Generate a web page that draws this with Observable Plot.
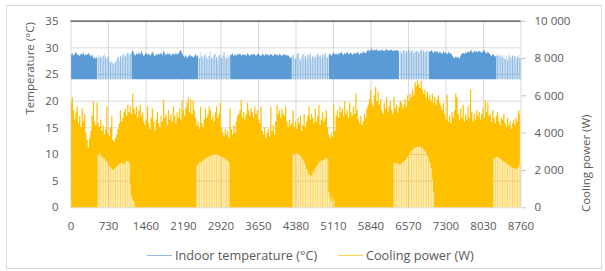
<!DOCTYPE html>
<html><head><meta charset="utf-8">
<script src="https://cdn.jsdelivr.net/npm/d3@7"></script>
<script src="https://cdn.jsdelivr.net/npm/@observablehq/plot@0.6"></script>
<style>
body{margin:0;background:#fff;font-family:"Open Sans",sans-serif;}
#wrap{position:relative;width:605px;height:271px;overflow:hidden;background:#fff}
#chart{position:absolute;left:0;top:0}
#frame{position:absolute;left:6px;top:5px;width:594px;height:262px;border:1px solid #d9d9d9;pointer-events:none}
.leg{position:absolute;top:247px;font-size:12.7px;line-height:16px;color:#595959;white-space:nowrap;font-family:"Open Sans",sans-serif}
.sw{position:absolute;top:255px;width:25px;height:0;border-top:1.5px solid}
</style></head><body>
<div id="wrap">
<div id="chart"></div>
<div class="sw" style="left:147px;border-top-color:#8fbbe6"></div>
<div class="leg" style="left:175px">Indoor temperature (°C)</div>
<div class="sw" style="left:338px;border-top-color:#ffd34d"></div>
<div class="leg" style="left:366px">Cooling power (W)</div>
<div id="frame"></div>
</div>
<script>
// Hour-of-year tick labels
const xTicks = [0, 730, 1460, 2190, 2920, 3650, 4380, 5110, 5840, 6570, 7300, 8030, 8760];
const tempTicks = [0, 5, 10, 15, 20, 25, 30, 35];
const powerTicks = [0, 2000, 4000, 6000, 8000, 10000];

// Daily peak cooling power (W), day 0..364
const coolMax = [
5600,5900,5200,4700,5100,5400,4500,4900,4300,5300,
4600,5000,4000,3600,3200,3700,4100,4900,5700,4600,
4400,5600,4500,4300,4700,4100,4400,3900,4200,5400,
4000,3800,4300,4900,3600,3500,3700,3900,4200,4500,
5200,4600,4800,5100,5300,4900,5500,5100,5400,5000,
6100,5300,5000,5400,4800,5200,5500,4900,5100,4600,
4400,4700,5400,4500,4200,4800,5300,4600,4100,4700,
5100,4500,4300,4900,4600,5750,4800,5000,4400,5200,
4700,5000,4600,5400,4900,4500,5100,4800,5300,4700,
5750,5200,4900,5300,5600,5900,5100,5800,5000,5700,
5200,4800,4400,4600,4200,5400,4500,4300,4700,5300,
4800,5000,5400,5200,4700,4900,4600,5100,5400,4800,
5000,5600,4300,4000,3800,4200,3900,4100,3700,5300,
4200,3900,4400,4000,4600,4900,5000,5200,5750,4800,
5100,4700,5000,5600,5200,4900,5300,5100,4800,5400,
5000,5200,4700,4500,5400,4100,3900,4300,3700,4000,
4200,3800,5400,4100,4400,3900,4600,5500,5000,5200,
4800,5300,5000,4900,5400,4600,4300,4700,4400,4500,
5200,4300,4600,4200,4800,4500,4900,4100,4400,5000,
4300,4600,4900,5400,4700,5000,4800,4500,5300,4600,
4900,5500,4400,4700,5100,4600,4800,5200,4300,3900,
3700,4000,3800,5500,4100,4900,5200,4800,5400,5100,
5300,4900,5700,5000,5200,4800,5600,5100,4900,5400,
5000,6100,5200,4700,4500,4900,4400,4600,5000,4800,
5300,5500,5800,6300,5600,5400,6000,6450,5700,6200,
5500,5800,5200,5000,5600,5300,5900,5100,5400,5700,
5200,5000,5900,5300,5500,5100,5400,5700,5600,5300,
5500,5800,5400,6000,5700,6100,5900,6300,6000,6700,
6500,6800,6600,6400,6800,6300,6100,6300,5900,6200,
5800,6000,5700,6100,5600,5900,5500,5800,6000,5600,
5400,5200,5600,5000,4700,6000,4600,4900,4500,5100,
4800,5200,6100,5900,5000,4700,5300,4800,5500,4600,
5000,4700,5400,4800,6300,5100,4600,5000,4700,5200,
4900,5100,4700,5000,5300,4800,5750,5100,5600,4900,
5000,4600,5200,4800,4500,4900,5100,4600,4400,4800,
4700,5000,4500,4300,4800,4400,4600,4200,4500,4700,
4400,4800,4600,5200,5000
];

// Daily peak indoor temperature (°C), day 0..364
const tempMax = [
28.6,28.9,28.4,28.8,29.2,28.5,28.7,28.3,28.9,28.6,
29.1,28.4,28.8,28.5,29.0,28.6,28.3,28.7,27.9,28.2,
27.8,28.3,28.0,28.6,28.2,27.7,28.4,28.8,28.1,27.9,
28.3,27.6,27.2,27.5,27.0,26.8,27.3,27.8,28.2,27.6,
28.4,28.0,28.6,28.9,28.3,28.7,29.0,28.5,28.8,29.1,
29.5,28.8,28.4,28.9,28.6,29.1,28.5,29.4,28.7,28.3,
28.8,29.0,28.5,28.9,28.4,28.7,29.2,28.6,28.3,28.8,
28.5,28.9,28.6,29.1,28.4,29.5,28.8,28.5,28.9,28.6,
29.0,28.4,28.7,28.9,28.5,29.1,28.6,28.8,29.2,29.5,
28.9,28.4,28.1,28.6,27.9,28.3,28.7,28.2,28.5,28.0,
28.4,28.8,28.2,28.6,28.0,29.0,28.3,27.7,28.5,28.9,
28.1,27.6,28.4,29.2,28.0,27.8,28.6,28.9,28.2,27.7,
28.5,28.8,28.0,28.4,29.0,28.3,27.9,28.6,28.2,28.7,
28.5,28.9,28.3,28.7,28.4,28.8,28.6,28.9,28.4,28.7,
28.5,28.8,28.3,28.9,28.6,28.4,28.8,28.5,28.9,28.6,
28.4,28.7,28.9,28.5,28.3,28.8,28.6,28.4,28.9,28.5,
28.7,28.4,28.8,28.6,28.3,28.9,28.5,28.7,28.4,28.8,
28.6,28.3,28.8,28.5,28.7,28.4,28.6,28.2,27.9,28.3,
28.6,28.2,27.8,28.5,28.9,28.1,27.6,28.3,28.7,28.0,
28.4,27.9,28.6,28.2,28.8,27.7,28.3,28.6,28.1,28.5,
28.8,28.2,28.5,27.9,28.6,28.3,28.9,28.4,28.1,28.6,
28.9,28.4,28.7,29.1,28.6,28.9,28.5,29.0,28.7,29.2,
28.8,28.5,29.0,28.7,29.2,28.6,28.9,29.1,28.5,28.8,
29.0,28.7,29.2,28.9,28.6,29.1,28.8,29.3,29.0,28.9,
29.3,29.6,29.2,29.5,29.8,29.3,29.6,29.4,29.7,29.2,
29.5,29.3,29.6,29.4,29.2,29.5,29.7,29.3,29.5,29.4,
29.6,29.2,29.5,29.3,29.6,29.4,29.2,29.5,29.0,29.3,
29.5,28.9,29.4,29.2,29.6,29.0,29.3,29.5,28.9,29.4,
29.2,29.5,29.0,29.3,29.6,29.1,29.4,28.9,29.2,29.5,
29.3,29.1,29.5,29.2,28.9,29.4,29.1,29.3,28.8,29.2,
29.0,28.7,29.3,28.9,29.1,28.6,29.2,28.8,29.0,28.5,
28.2,27.9,28.4,28.0,28.3,27.8,28.5,28.8,29.0,28.7,
29.1,28.9,29.3,29.0,29.6,29.2,28.9,29.4,29.1,29.3,
29.0,29.4,29.2,28.9,29.3,29.5,29.1,28.8,29.2,28.9,
28.6,28.3,28.8,28.5,28.2,28.7,28.4,28.9,28.3,28.6,
28.1,28.5,27.8,28.3,27.6,28.7,28.2,27.9,28.5,28.0,
28.4,27.7,28.2,28.6,28.0
];

// Low-use periods: level (W) below which cooling power is only intermittent
const gapStarts = [22, 102, 180, 262, 343];
const gap1 = [2800,2900,2850,2700,2650,2600,2500,2450,2300,2200,2150,2050,2000,2050,2100,2200,2250,2300,2350,2400,2350,2300,2400,2500,2450,2400,1200,600,400,300];
const gap2 = [2200,2300,2400,2400,2450,2500,2550,2600,2650,2700,2750,2750,2800,2800,2850,2850,2800,2850,2750,2750,2700,2650,2650,2600,2550,2500,2400];
const gap3 = [2800,2850,2900,2900,2850,2800,2750,2650,2550,2400,2250,2050,1900,1750,1650,1700,1800,1950,2100,2200,2300,2400,2450,2500,2500,2550,2600,2650,2600,800,500,300,600,400];
const gap4 = [2400,2380,2350,2330,2300,2300,2350,2400,2450,2550,2600,2700,2800,2900,3000,3100,3150,3200,3200,3250,3250,3250,3200,3150,3100,3000,2900,2750,2600,2400,2100,1500,800];
const gap5 = [2600,2650,2700,2700,2650,2600,2550,2500,2450,2400,2350,2300,2250,2200,2150,2100,2100,2050,2050,2100,2200,2350];
// Periods (start day, end day) where indoor temperature is intermittent
const tempStripeStart = [22, 104, 180, 267, 346];
const tempStripeEnd = [48, 128, 208, 289, 364];

const K = 35 / 10000; // W -> left-axis units
const gapLists = [gap1, gap2, gap3, gap4, gap5];
const gapByDay = new Array(365).fill(0);
gapLists.forEach((g, i) => g.forEach((v, j) => { gapByDay[gapStarts[i] + j] = v; }));

const days = coolMax.map((c, d) => {
  const ts = tempStripeStart.some((s, i) => d >= s && d <= tempStripeEnd[i]);
  return {d, h: d * 24 + 12, h0: d * 24, h1: d * 24 + 24,
    cool: c * K, gap: gapByDay[d] * K, temp: tempMax[d], ts};
});
const coolStripes = days.filter(r => r.gap > 0);
const tempStripes = days.filter(r => r.ts);

const BLUE = "#5b9bd5", ORANGE = "#ffc000", GRID = "#d9d9d9";
const fmt = v => d3.format(",")(v).replace(/,/g, " ");

const plot = Plot.plot({
  width: 605, height: 240,
  marginLeft: 70.5, marginRight: 84.5, marginTop: 20.7, marginBottom: 32.7,
  style: {background: "transparent", fontFamily: "Open Sans, sans-serif", fontSize: "11.5px", color: "#595959"},
  x: {domain: [0, 8760]},
  y: {domain: [0, 35]},
  marks: [
    Plot.ruleY(tempTicks.filter(t => t > 0 && t < 35), {stroke: GRID}),
    Plot.ruleX(xTicks, {stroke: GRID}),
    Plot.ruleY([0], {stroke: GRID}),
    Plot.areaY(days, {x: "h", y1: 24, y2: r => r.ts ? NaN : r.temp, fill: BLUE}),
    Plot.rectY(tempStripes, {x1: "h0", x2: "h1", y1: 24, y2: "temp", fill: BLUE, fillOpacity: r => r.d % 2 ? 0.32 : 0.68}),
    Plot.areaY(days, {x: "h", y1: "gap", y2: "cool", fill: ORANGE, curve: "step"}),
    Plot.rectY(coolStripes, {x1: "h0", x2: "h1", y1: 0, y2: "gap", fill: ORANGE, fillOpacity: r => r.d % 2 ? 0.28 : 0.6}),
    Plot.ruleY([35], {stroke: "#404040", strokeWidth: 1.3}),
    Plot.axisX({ticks: xTicks, tickSize: 0, tickPadding: 14, tickFormat: d => String(d), label: null}),
    Plot.axisY({anchor: "left", ticks: tempTicks, tickSize: 0, tickPadding: 12.5, tickFormat: d => String(d), label: null}),
    Plot.axisY({anchor: "right", ticks: powerTicks.map(v => v * K), tickSize: 4, tickPadding: 9.5, stroke: "#bfbfbf", fill: "#595959", tickFormat: d => fmt(Math.round(d / K)), label: null}),
    Plot.text(["Temperature (°C)"], {frameAnchor: "left", dx: -40.5, rotate: -90, fill: "#595959"}),
    Plot.text(["Cooling power (W)"], {frameAnchor: "right", dx: 65.5, rotate: -90, fill: "#595959"})
  ]
});
document.getElementById("chart").appendChild(plot);
</script>
</body></html>
